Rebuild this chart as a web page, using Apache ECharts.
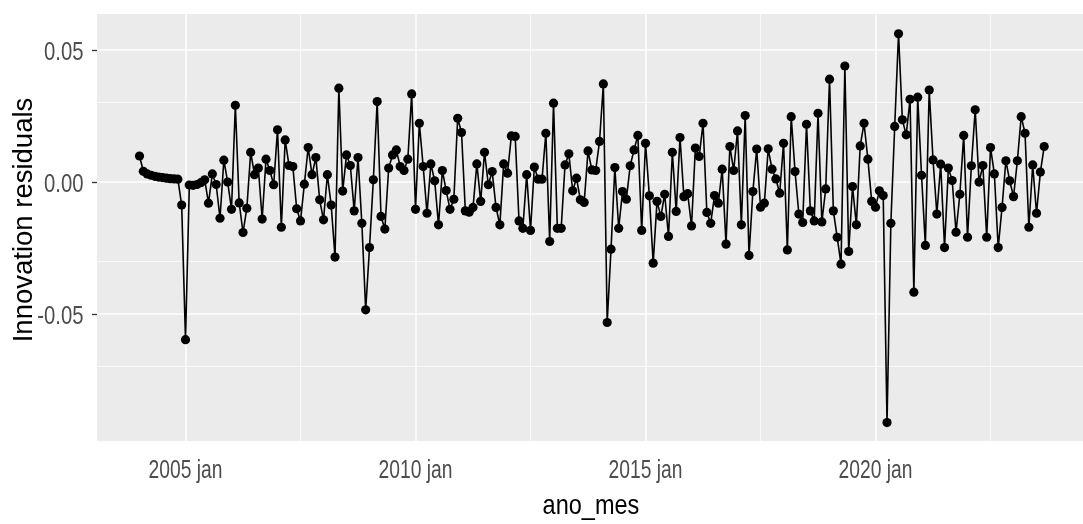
<!DOCTYPE html>
<html>
<head>
<meta charset="utf-8">
<script src="https://cdn.jsdelivr.net/npm/echarts@6/dist/echarts.min.js"></script>
<style>
html,body{margin:0;padding:0;background:#fff;}
#chart{width:1083px;height:524px;}
</style>
</head>
<body>
<div id="chart"></div>
<script>
// Monthly innovation residuals, starting 2004 jan
const startYear = 2004;
const startMonth = 1;
const res2004 = [0.0098, 0.0040, 0.0030, 0.0025, 0.0021, 0.0018, 0.0016, 0.0014, 0.0012, 0.0011, 0.0010, -0.0088];
const res2005 = [-0.0598, -0.0012, -0.0013, -0.0010, -0.0003, 0.0008, -0.0081, 0.0030, -0.0010, -0.0138, 0.0082, -0.0001];
const res2006 = [-0.0104, 0.0290, -0.0080, -0.0192, -0.0100, 0.0112, 0.0027, 0.0052, -0.0141, 0.0086, 0.0043, -0.0011];
const res2007 = [0.0197, -0.0172, 0.0159, 0.0062, 0.0058, -0.0102, -0.0148, -0.0009, 0.0130, 0.0027, 0.0092, -0.0068];
const res2008 = [-0.0144, 0.0027, -0.0088, -0.0285, 0.0355, -0.0035, 0.0102, 0.0062, -0.0110, 0.0092, -0.0157, -0.0485];
const res2009 = [-0.0249, 0.0008, 0.0304, -0.0131, -0.0179, 0.0052, 0.0102, 0.0121, 0.0058, 0.0043, 0.0086, 0.0333];
const res2010 = [-0.0104, 0.0222, 0.0058, -0.0119, 0.0068, 0.0004, -0.0163, 0.0043, -0.0033, -0.0104, -0.0066, 0.0241];
const res2011 = [0.0187, -0.0110, -0.0115, -0.0097, 0.0068, -0.0074, 0.0112, -0.0011, 0.0039, -0.0097, -0.0163, 0.0068];
const res2012 = [0.0033, 0.0174, 0.0172, -0.0148, -0.0176, 0.0027, -0.0184, 0.0056, 0.0010, 0.0010, 0.0184, -0.0226];
const res2013 = [0.0298, -0.0176, -0.0176, 0.0064, 0.0106, -0.0034, 0.0014, -0.0068, -0.0078, 0.0117, 0.0045, 0.0043];
const res2014 = [0.0153, 0.0371, -0.0533, -0.0255, 0.0054, -0.0176, -0.0037, -0.0066, 0.0061, 0.0121, 0.0176, -0.0184];
const res2015 = [0.0146, -0.0053, -0.0308, -0.0074, -0.0131, -0.0047, -0.0207, 0.0112, -0.0112, 0.0168, -0.0056, -0.0045];
const res2016 = [-0.0167, 0.0128, 0.0096, 0.0222, -0.0116, -0.0157, -0.0052, -0.0081, 0.0048, -0.0236, 0.0134, 0.0043];
const res2017 = [0.0193, -0.0163, 0.0251, -0.0279, -0.0037, 0.0124, -0.0096, -0.0081, 0.0125, 0.0048, 0.0011, -0.0043];
const res2018 = [0.0146, -0.0258, 0.0247, 0.0039, -0.0122, -0.0154, 0.0218, -0.0110, -0.0148, 0.0260, -0.0152, -0.0027];
const res2019 = [0.0389, -0.0110, -0.0210, -0.0312, 0.0439, -0.0264, -0.0018, -0.0163, 0.0136, 0.0222, 0.0086, -0.0074];
const res2020 = [-0.0096, -0.0034, -0.0052, -0.0912, -0.0157, 0.0210, 0.0561, 0.0235, 0.0178, 0.0313, -0.0418, 0.0321];
const res2021 = [0.0025, -0.0241, 0.0348, 0.0083, -0.0122, 0.0067, -0.0249, 0.0052, 0.0005, -0.0191, -0.0047, 0.0176];
const res2022 = [-0.0210, 0.0061, 0.0273, -0.0001, 0.0062, -0.0210, 0.0130, 0.0030, -0.0249, -0.0097, 0.0080, 0.0004];
const res2023 = [-0.0056, 0.0080, 0.0247, 0.0184, -0.0172, 0.0064, -0.0119, 0.0037, 0.0134];

const xTickYears = [2005, 2010, 2015, 2020];
const xTickLabels = ['2005 jan', '2010 jan', '2015 jan', '2020 jan'];
const xMinorYears = [2007.5, 2012.5, 2017.5, 2022.5];
const yTicks = [-0.05, 0, 0.05];
const yTickLabels = ['-0.05', '0.00', '0.05'];
const yMinor = [-0.075, -0.025, 0.025];
const xTitle = 'ano_mes';
const yTitle = 'Innovation residuals';

const residuals = [].concat(res2004, res2005, res2006, res2007, res2008, res2009, res2010,
  res2011, res2012, res2013, res2014, res2015, res2016, res2017, res2018, res2019,
  res2020, res2021, res2022, res2023);
const points = residuals.map((v, i) => [startYear + (startMonth - 1 + i) / 12, v]);

const xMin = 2003.076, xMax = 2024.51;
const yMin = -0.0982, yMax = 0.0636;
const FONT = '"Liberation Sans", Arial, Helvetica, sans-serif';

const chart = echarts.init(document.getElementById('chart'), null, {renderer: 'canvas'});
const gridLines = [];
xTickYears.forEach(v => gridLines.push({xAxis: v, lineStyle: {color: '#ffffff', width: 1.5, type: 'solid'}}));
xMinorYears.forEach(v => gridLines.push({xAxis: v, lineStyle: {color: '#ffffff', width: 0.75, type: 'solid'}}));
yTicks.forEach(v => gridLines.push({yAxis: v, lineStyle: {color: '#ffffff', width: 1.5, type: 'solid'}}));
yMinor.forEach(v => gridLines.push({yAxis: v, lineStyle: {color: '#ffffff', width: 0.75, type: 'solid'}}));

const GRID = {left: 97, right: 0, top: 14, bottom: 83};

chart.setOption({
  animation: false,
  backgroundColor: '#ffffff',
  grid: Object.assign({show: true, backgroundColor: '#EBEBEB', borderWidth: 0}, GRID),
  xAxis: {
    type: 'value', min: xMin, max: xMax,
    axisLine: {show: false},
    axisTick: {show: true, length: 5, lineStyle: {color: '#333333', width: 1.3}, customValues: xTickYears},
    axisLabel: {show: false},
    splitLine: {show: false}
  },
  yAxis: {
    type: 'value', min: yMin, max: yMax,
    axisLine: {show: false},
    axisTick: {show: true, length: 5, lineStyle: {color: '#333333', width: 1.3}, customValues: yTicks},
    axisLabel: {show: false},
    splitLine: {show: false}
  },
  series: [
    {
      type: 'line', data: [], z: 1, silent: true,
      markLine: {silent: true, z: 1, symbol: ['none', 'none'], label: {show: false},
        emphasis: {disabled: true}, animation: false, data: gridLines}
    },
    {
      type: 'line', data: points, z: 3,
      symbol: 'circle', symbolSize: 9.2, showSymbol: true,
      lineStyle: {color: '#000000', width: 1.6},
      itemStyle: {color: '#000000'},
      emphasis: {disabled: true}
    }
  ]
});

// Tall, condensed text like the reference: placed with the library's own scales
const gridBottomPx = chart.convertToPixel({yAxisIndex: 0}, yMin);
const gridTopPx = chart.convertToPixel({yAxisIndex: 0}, yMax);
const gridLeftPx = chart.convertToPixel({xAxisIndex: 0}, xMin);
const gridRightPx = chart.convertToPixel({xAxisIndex: 0}, xMax);
const graphics = [];
xTickYears.forEach((v, i) => {
  graphics.push({
    type: 'text', x: chart.convertToPixel({xAxisIndex: 0}, v), y: gridBottomPx + 29.5,
    scaleX: 0.74, silent: true,
    style: {text: xTickLabels[i], fill: '#4D4D4D', font: '26px ' + FONT, align: 'center', verticalAlign: 'middle'}
  });
});
yTicks.forEach((v, i) => {
  graphics.push({
    type: 'text', x: gridLeftPx - 13.5, y: chart.convertToPixel({yAxisIndex: 0}, v) + 2.8,
    scaleX: 0.78, silent: true,
    style: {text: yTickLabels[i], fill: '#4D4D4D', font: '26px ' + FONT, align: 'right', verticalAlign: 'middle'}
  });
});
graphics.push({
  type: 'text', x: (gridLeftPx + gridRightPx) / 2 + 1, y: gridBottomPx + 65,
  scaleX: 0.84, silent: true,
  style: {text: xTitle, fill: '#000000', font: '28px ' + FONT, align: 'center', verticalAlign: 'middle'}
});
graphics.push({
  type: 'text', x: 24, y: (gridTopPx + gridBottomPx) / 2 - 7.5,
  rotation: Math.PI / 2, silent: true,
  style: {text: yTitle, fill: '#000000', font: '27.5px ' + FONT, align: 'center', verticalAlign: 'middle'}
});
chart.setOption({graphic: graphics});
</script>
</body>
</html>
